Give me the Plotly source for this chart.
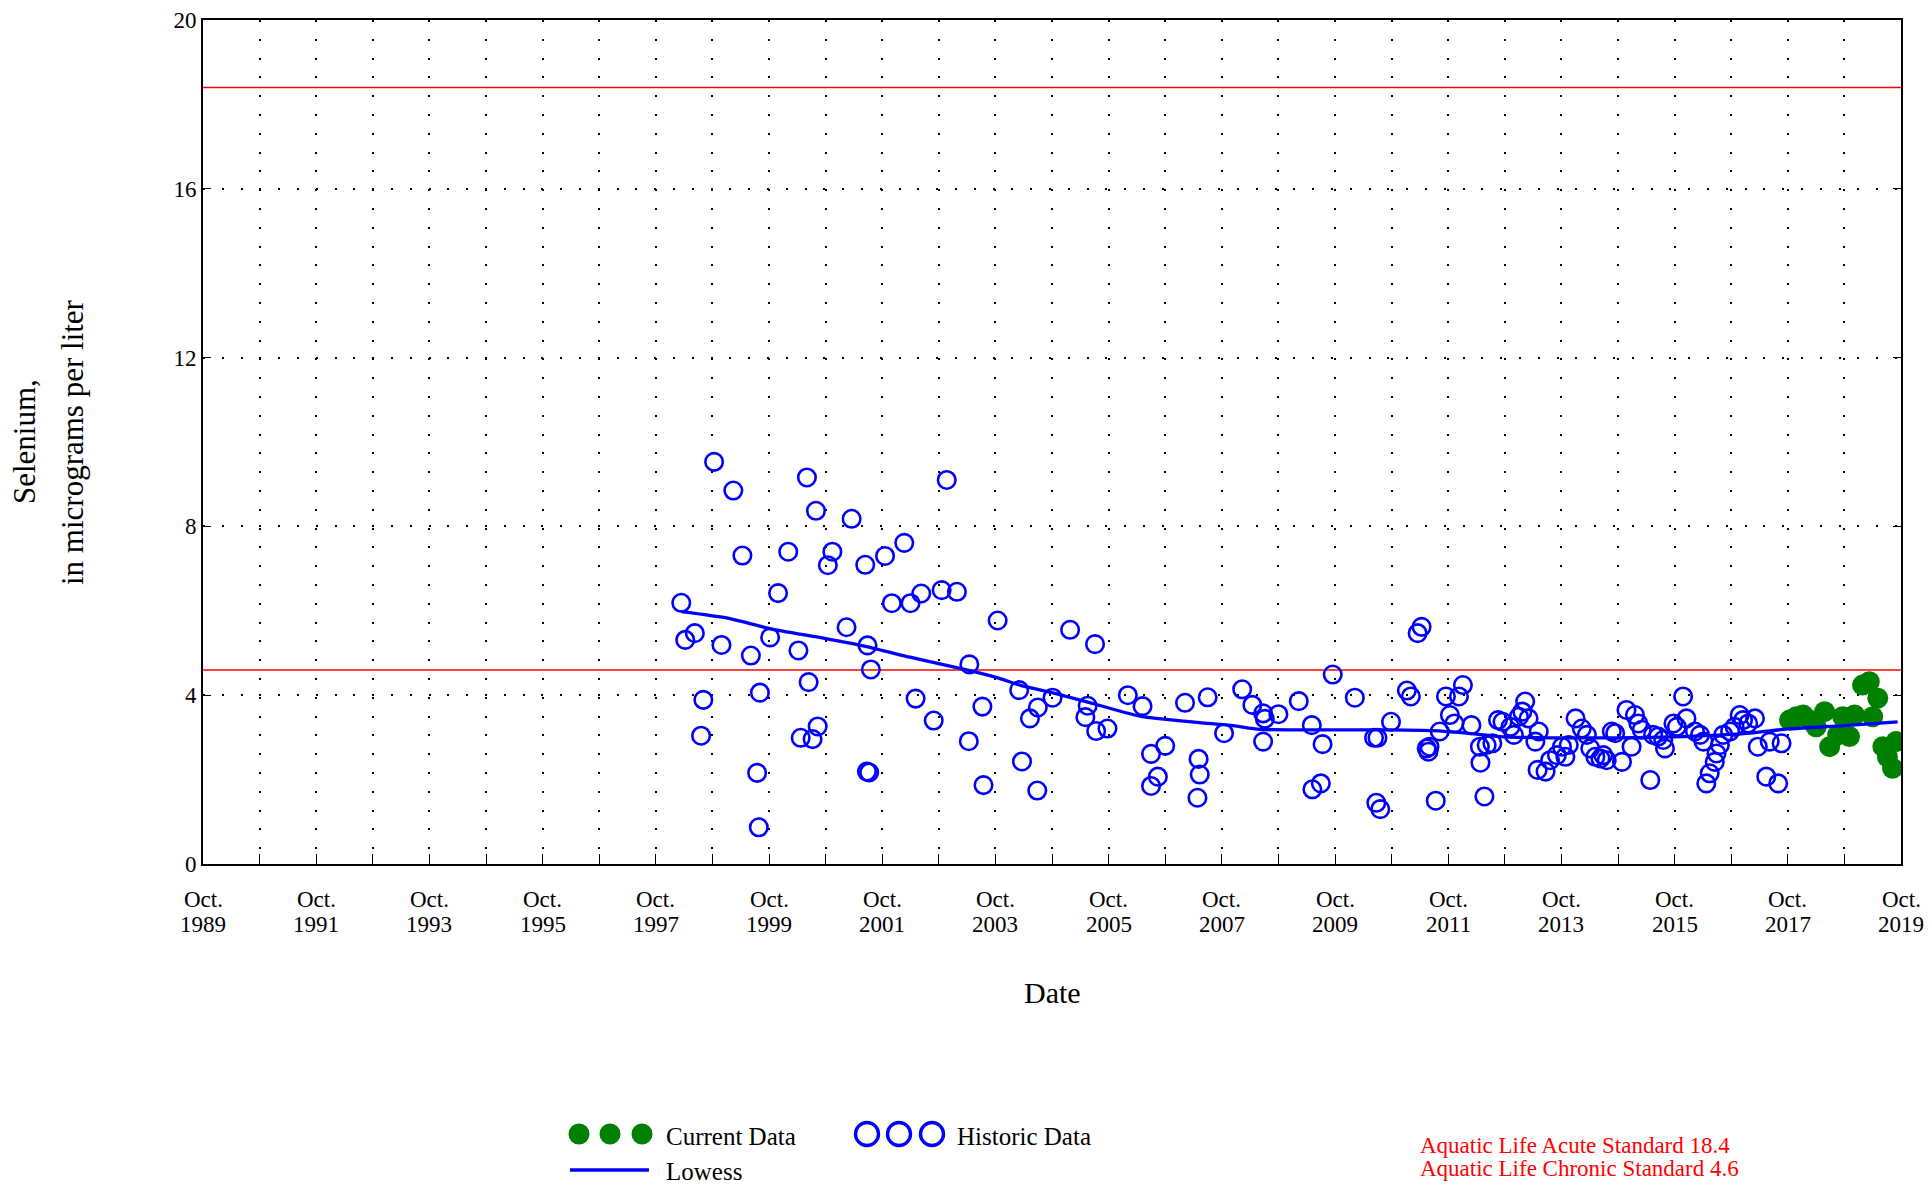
import plotly.graph_objects as go

# ---- Selenium samples (decimal year, micrograms per liter) ----
historic_year = [
    1998.20, 1998.27, 1998.44, 1998.78, 1999.12, 1999.28, 1998.91, 1998.59, 1998.55, 1999.43,
    1999.59, 1999.54, 1999.57, 1999.77, 1999.91, 2000.09, 2000.27, 2000.42, 2000.58, 2000.45,
    2000.31, 2000.52, 2000.61, 2000.79, 2000.87, 2001.21, 2001.12, 2001.45, 2001.49, 2001.55,
    2001.48, 2001.52, 2001.80, 2001.92, 2002.14, 2002.25, 2002.44, 2002.34, 2002.66, 2002.80,
    2002.89, 2003.07, 2003.28, 2003.29, 2003.52, 2003.54, 2003.79, 2004.17, 2004.22, 2004.36,
    2004.50, 2004.49,
    2004.76, 2005.07, 2005.51, 2005.34, 2005.38, 2005.53, 2005.73, 2006.09, 2006.35, 2006.50,
    2006.75, 2006.50, 2006.62, 2007.10, 2007.50, 2007.34, 2007.36, 2007.32, 2007.79, 2008.11,
    2008.29, 2008.48, 2008.51, 2008.75, 2008.48, 2009.11, 2009.34, 2009.53, 2009.35, 2009.50,
    2009.71, 2010.10, 2010.44, 2010.50, 2010.48, 2010.55, 2010.74, 2011.21, 2011.28, 2011.02,
    2011.09, 2011.37, 2011.40, 2011.42, 2011.53, 2011.60, 2011.71, 2011.78, 2011.86, 2011.94,
    2012.01, 2012.16, 2012.31, 2012.32, 2012.39, 2012.43, 2012.53, 2012.63,
    2012.71, 2012.85, 2012.91, 2013.00, 2013.06, 2013.11, 2013.17, 2013.35, 2013.29, 2013.33,
    2013.47, 2013.55, 2013.67, 2013.82, 2013.76, 2013.88, 2014.00, 2014.11, 2014.20, 2014.26,
    2014.35, 2014.44, 2014.49, 2014.55, 2014.64, 2014.70, 2014.82, 2014.90, 2014.99, 2015.05,
    2015.11, 2015.17, 2015.32, 2015.37, 2015.46, 2015.58, 2015.55, 2015.73, 2015.79, 2015.90,
    2015.96, 2016.11, 2016.20, 2016.26, 2016.31, 2016.37, 2016.46, 2016.49, 2016.55, 2016.61,
    2016.73, 2016.81, 2016.90, 2016.96, 2017.05, 2017.17, 2017.22, 2017.37, 2017.58, 2017.43,
    2017.64,
]
historic_value = [
    6.19, 5.31, 5.47, 9.53, 8.85, 7.31, 5.19, 3.89, 3.04, 4.94,
    4.06, 2.16, 0.87, 5.37, 6.42, 7.40, 5.06, 9.16, 8.37, 4.31,
    2.99, 2.96, 3.26, 7.08, 7.40, 8.18, 5.61, 7.09, 5.18, 4.61,
    2.19, 2.17, 7.30, 6.18, 7.61, 6.18, 6.41, 3.92, 3.40, 6.49,
    9.10, 6.45, 2.91, 4.73, 3.73, 1.87, 5.77, 4.12, 2.43, 3.45,
    3.71, 1.74,
    3.94, 5.55, 5.21, 3.48, 3.75, 3.15, 3.21, 4.00, 3.74, 2.61,
    2.80, 1.85, 2.07, 3.82, 3.95, 2.49, 2.12, 1.57, 3.10, 4.14,
    3.77, 3.57, 3.44, 3.55, 2.90, 3.86, 3.29, 2.84, 1.77, 1.91,
    4.49, 3.94, 2.99, 2.99, 1.45, 1.30, 3.37, 5.47, 5.62, 4.11,
    3.97, 2.74, 2.66, 2.78, 1.50, 3.14, 3.97, 3.53, 3.33, 3.97,
    4.24, 3.29, 2.78, 2.40, 1.60, 2.82, 2.86, 3.41,
    3.37, 3.25, 3.06, 3.49, 3.61, 3.85, 3.45, 3.14, 2.90, 2.23,
    2.19, 2.46, 2.58, 2.54, 2.78, 2.82, 3.45, 3.21, 3.06, 2.74,
    2.54, 2.50, 2.58, 2.46, 3.14, 3.10, 2.42, 3.65, 2.78, 3.53,
    3.33, 3.18, 1.99, 3.06, 3.02, 2.74, 2.94, 3.33, 3.25, 3.97,
    3.45, 3.14, 3.06, 2.90, 1.91, 2.15, 2.42, 2.62, 2.82, 3.06,
    3.14, 3.25, 3.53, 3.41, 3.33, 3.45, 2.78, 2.07, 1.91, 2.90,
    2.86,
]

current_year = [
    2017.78, 2017.90, 2018.02, 2018.13, 2018.25, 2018.40, 2018.49, 2018.63, 2018.72, 2018.84,
    2018.93, 2019.07, 2019.19, 2019.34, 2019.25, 2019.43, 2019.51, 2019.60, 2019.66,
]
current_value = [
    3.41, 3.49, 3.53, 3.41, 3.25, 3.61, 2.78, 3.06, 3.49, 3.02,
    3.53, 4.24, 4.32, 3.93, 3.49, 2.78, 2.54, 2.27, 2.90,
]

# LOWESS smooth of the full record
lowess_year = [
    1998.20, 1999.00, 1999.76, 2000.71, 2001.47, 2002.24, 2002.71, 2003.30, 2003.82, 2004.18,
    2004.75, 2005.35, 2005.88, 2006.35, 2006.59, 2007.36, 2007.95, 2008.42, 2009.71, 2010.75,
    2011.48, 2012.07, 2012.66, 2013.55, 2014.73, 2015.90, 2017.08, 2017.74, 2018.75, 2019.69,
]
lowess_value = [
    5.98, 5.83, 5.58, 5.35, 5.15, 4.90, 4.76, 4.58, 4.40, 4.24,
    4.06, 3.85, 3.65, 3.49, 3.45, 3.35, 3.28, 3.19, 3.18, 3.18,
    3.16, 3.10, 3.02, 2.99, 2.99, 3.02, 3.10, 3.20, 3.28, 3.37,
]

# Water-quality standards
standard_names = ["Aquatic Life Acute Standard", "Aquatic Life Chronic Standard"]
standard_values = [18.4, 4.6]

# Axis ticks
year_ticks = list(range(1989, 2020))          # one tick every October
label_years = list(range(1989, 2020, 2))      # labelled every other year
y_ticks = [0, 4, 8, 12, 16, 20]

W, H = 1932, 1186
PLOT_L, PLOT_R, PLOT_T, PLOT_B = 203, 1901, 20, 864
FONT = "Liberation Serif, Times New Roman, serif"
BLUE = "#0000ff"
GREEN = "#008000"
RED = "#ff0000"

X0, X1 = year_ticks[0] + 0.75, year_ticks[-1] + 0.75

fig = go.Figure()

# standard lines
for val in standard_values:
    fig.add_trace(go.Scatter(
        x=[X0, X1], y=[val, val], mode="lines",
        line=dict(color=RED, width=1.5), hoverinfo="skip", showlegend=False,
    ))

fig.add_trace(go.Scatter(
    x=historic_year, y=historic_value, mode="markers", name="Historic Data",
    marker=dict(symbol="circle-open", size=17.5, color=BLUE, line=dict(color=BLUE, width=2.6)),
    showlegend=False,
))
fig.add_trace(go.Scatter(
    x=current_year, y=current_value, mode="markers", name="Current Data",
    marker=dict(symbol="circle", size=21, color=GREEN),
    showlegend=False,
))
fig.add_trace(go.Scatter(
    x=lowess_year, y=lowess_value, mode="lines", name="Lowess",
    line=dict(color=BLUE, width=3.3, shape="spline", smoothing=0.6),
    showlegend=False,
))

# ---- legend block drawn on a pixel-space overlay ----
leg_y1, leg_y2 = 1134, 1170
fig.add_trace(go.Scatter(
    x=[579, 610, 642], y=[leg_y1] * 3, xaxis="x2", yaxis="y2", mode="markers",
    marker=dict(symbol="circle", size=21, color=GREEN), hoverinfo="skip", showlegend=False,
))
fig.add_trace(go.Scatter(
    x=[867, 899, 932], y=[leg_y1] * 3, xaxis="x2", yaxis="y2", mode="markers",
    marker=dict(symbol="circle-open", size=23, color=BLUE, line=dict(color=BLUE, width=3.4)),
    hoverinfo="skip", showlegend=False,
))
fig.add_trace(go.Scatter(
    x=[570, 649], y=[leg_y2] * 2, xaxis="x2", yaxis="y2", mode="lines",
    line=dict(color=BLUE, width=3.5), hoverinfo="skip", showlegend=False,
))

annotations = []


def px_text(text, x, y, size, color="black", xanchor="left", angle=0, yanchor="middle"):
    annotations.append(dict(
        text=text, x=x, y=y, xref="x2", yref="y2", xanchor=xanchor, yanchor=yanchor,
        showarrow=False, textangle=angle, borderpad=0,
        font=dict(family=FONT, size=size, color=color),
    ))


px_text("Current Data", 665, 1136, 25)
px_text("Lowess", 665, 1186, 25, yanchor="bottom")
px_text("Historic Data", 956, 1136, 25)
px_text(f"{standard_names[0]} {standard_values[0]}", 1419, 1145, 23, RED)
px_text(f"{standard_names[1]} {standard_values[1]}", 1419, 1168, 23, RED)

# axis titles
px_text("Date", (PLOT_L + PLOT_R) / 2, 992, 30, xanchor="center")
px_text("Selenium,", 24, 442, 31, xanchor="center", angle=-90)
px_text("in micrograms per liter", 72, 442, 31, xanchor="center", angle=-90)

# two-line date tick labels, positioned on the data x scale
for yr in label_years:
    for txt, py in (("Oct.", 899), (str(yr), 924)):
        annotations.append(dict(
            text=txt, x=yr + 0.75, xref="x", y=1 - py / H, yref="paper",
            xanchor="center", yanchor="middle", showarrow=False,
            font=dict(family=FONT, size=23, color="black"),
        ))

grid = dict(showgrid=True, gridcolor="black", gridwidth=1.7, griddash="2px,16.8px")

fig.update_layout(
    width=W, height=H,
    margin=dict(l=0, r=0, t=0, b=0, pad=0, autoexpand=False),
    paper_bgcolor="white",
    plot_bgcolor="rgba(0,0,0,0)",
    font=dict(family=FONT, size=23, color="black"),
    showlegend=False,
    annotations=annotations,
    xaxis=dict(
        domain=[PLOT_L / W, PLOT_R / W], range=[X0, X1], automargin=False,
        tickmode="array", tickvals=[y + 0.75 for y in year_ticks], showticklabels=False,
        ticks="inside", ticklen=10, tickwidth=1.4, tickcolor="black",
        showline=True, linecolor="black", linewidth=2, mirror=True,
        zeroline=False, **grid,
    ),
    yaxis=dict(
        domain=[1 - PLOT_B / H, 1 - PLOT_T / H], range=[0, 20], automargin=False,
        tickmode="array", tickvals=y_ticks,
        ticks="inside", ticklen=8, tickwidth=1.4, tickcolor="black",
        tickfont=dict(family=FONT, size=23, color="black"),
        showline=True, linecolor="black", linewidth=2, mirror="ticks",
        zeroline=False, **grid,
    ),
    xaxis2=dict(domain=[0, 1], range=[0, W], visible=False, anchor="y2",
                fixedrange=True, automargin=False),
    yaxis2=dict(domain=[0, 1], range=[H, 0], visible=False, anchor="x2",
                fixedrange=True, automargin=False),
)

fig.write_html("out.html")
